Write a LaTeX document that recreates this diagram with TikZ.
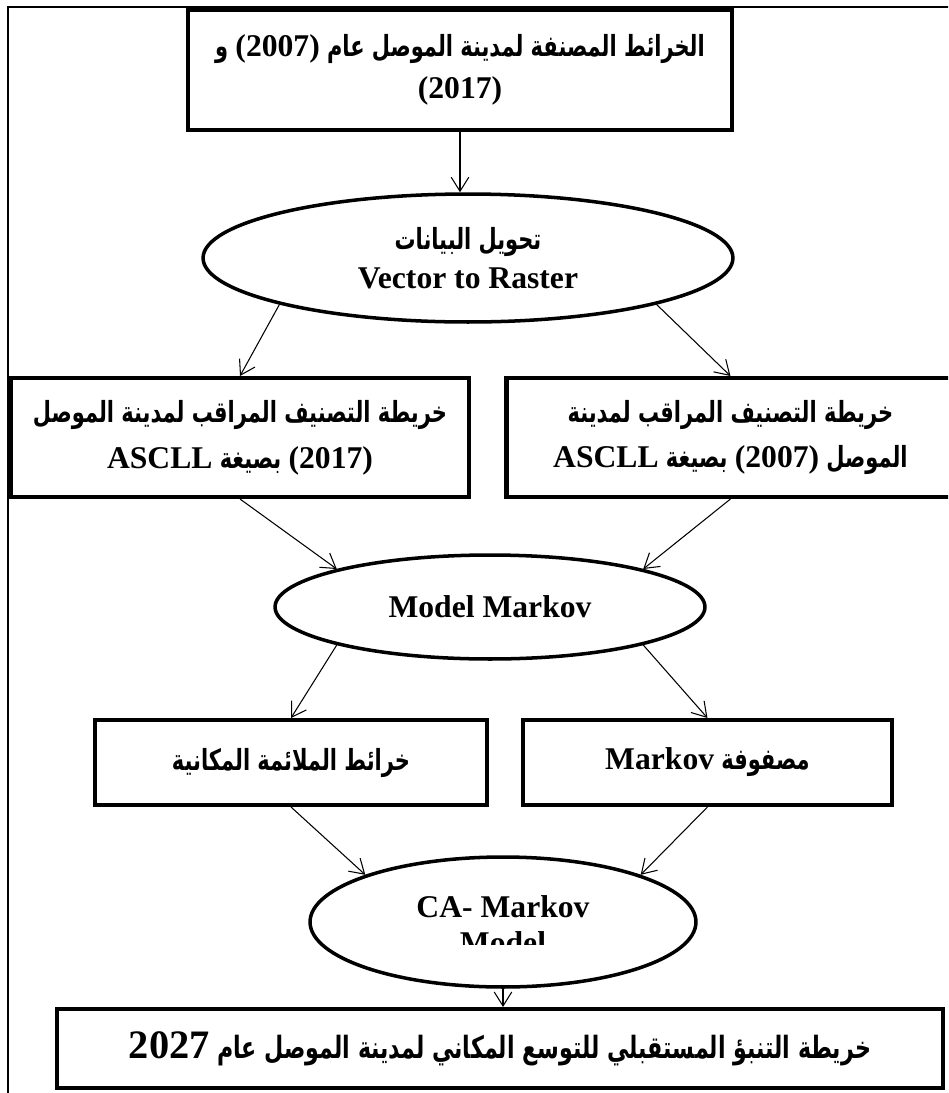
\documentclass[tikz,border=0pt]{standalone}
\usepackage{fontspec}
\setmainfont{Liberation Serif}
\newfontfamily\arabicfont[Script=Arabic,Scale=0.92,FakeStretch=0.72]{DejaVu Sans}
\TeXXeTstate=1
\usetikzlibrary{shapes.geometric,positioning,arrows.meta}

\tikzstyle{arrow} = [line width=0.6pt,-{Straight Barb[length=8pt,width=10pt]}]
\tikzstyle{frame} = [line width=1pt]

\newcommand{\arab}[1]{{\arabicfont\bfseries\beginR #1\endR}}
\newcommand{\latn}[1]{\beginL{\rmfamily\bfseries #1}\endL{}}

\begin{document}
\begin{tikzpicture}[x=0.02cm, y=-0.02cm]
\tikzset{%
	box/.style = { rectangle, draw=black, line width=2.3pt, align=center, inner sep=0pt, font=\fontsize{18}{26}\selectfont\bfseries },
	oval/.style = { ellipse, draw=black, line width=2pt, align=center, inner sep=0pt, font=\fontsize{18}{22}\selectfont\bfseries }
}
\useasboundingbox (0,0) rectangle (948,1093);
\clip (0,0) rectangle (948,1093);
\draw [frame] (8,1100) -- (8,7) -- (960,7);

\node(TopMaps)		[box, minimum width=10.88cm, minimum height=2.4cm] at (460,70)
								{\raisebox{-6pt}{\arab{الخرائط المصنفة لمدينة الموصل عام \latn{(2007)} و}}\\\raisebox{-4pt}{(2017)}};
\node(Convert)		[oval, minimum width=10.6cm, minimum height=2.56cm] at (468,258)
								{\arab{تحويل البيانات}\\Vector to Raster};

\node(SupervisedB)	[box, minimum width=9.18cm, minimum height=2.38cm] at (240,437.5)
								{\arab{خريطة التصنيف المراقب لمدينة الموصل}\\\arab{\latn{(2017)} بصيغة \latn{ASCLL}}};
\node(SupervisedA)	[box, minimum width=8.96cm, minimum height=2.38cm, right=0.66cm of SupervisedB]
								{\arab{خريطة التصنيف المراقب لمدينة}\\\arab{الموصل \latn{(2007)} بصيغة \latn{ASCLL}}};

\node(ModelMarkov)	[oval, minimum width=8.6cm, minimum height=2.08cm] at (490,607)
								{Model Markov};

\node(SuitMaps)		[box, minimum width=7.84cm, minimum height=1.7cm] at (291,762.5)
								{\arab{خرائط الملائمة المكانية}};
\node(MarkovMatrix)	[box, minimum width=7.38cm, minimum height=1.7cm, right=0.64cm of SuitMaps]
								{\arab{مصفوفة \latn{Markov}}};

\node(CAMarkov)		[oval, minimum width=7.72cm, minimum height=2.6cm] at (503,922) {};
\node(CALine)		[anchor=base, font=\fontsize{18}{22}\selectfont\bfseries] at (503,917)
								{CA- Markov};
\begin{scope}
\clip (320,850) rectangle (690,944);
\node(CAModel)		[anchor=base, font=\fontsize{18}{22}\selectfont\bfseries] at (503,953)
								{Model};
\end{scope}

\node(Forecast)		[box, minimum width=17.72cm, minimum height=1.58cm, font=\fontsize{19}{26}\selectfont\bfseries] at (500,1048.5)
								{\arab{خريطة التنبؤ المستقبلي للتوسع المكاني لمدينة الموصل عام \latn{\fontsize{23}{26}\selectfont 2027}}};

\draw [arrow]	(TopMaps.south) -- (TopMaps.south |- Convert.north);
\draw [arrow]	(Convert.south west) -- (SupervisedB.north);
\draw [arrow]	(Convert.south east) -- (SupervisedA.north);

\draw [arrow]	(SupervisedB.south) -- (ModelMarkov.north west);
\draw [arrow]	(SupervisedA.south) -- (ModelMarkov.north east);

\draw [arrow]	(ModelMarkov.south west) -- (SuitMaps.north);
\draw [arrow]	(ModelMarkov.south east) -- (MarkovMatrix.north);

\draw [arrow]	(SuitMaps.south) -- (CAMarkov.north west);
\draw [arrow]	(MarkovMatrix.south) -- (CAMarkov.north east);
\draw [arrow]	(CAMarkov.south) -- (CAMarkov.south |- Forecast.north);

\end{tikzpicture}
\end{document}
